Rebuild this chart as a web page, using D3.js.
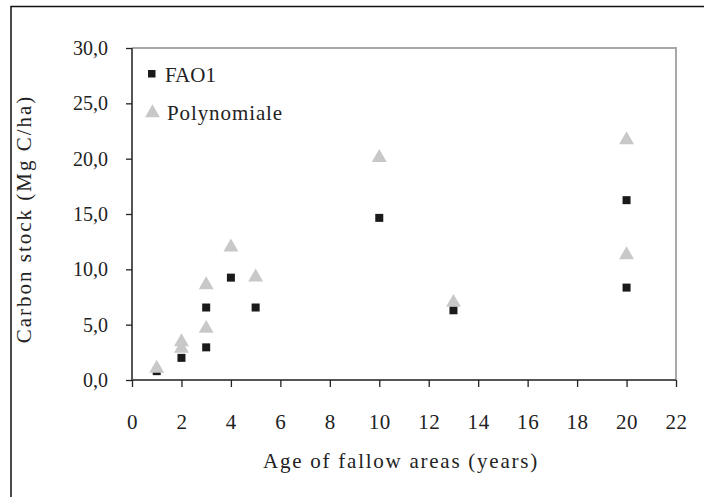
<!DOCTYPE html>
<html><head><meta charset="utf-8">
<script src="https://cdn.jsdelivr.net/npm/d3@7"></script>
<style>body{margin:0;background:#fff}svg{display:block}text{font-family:"Liberation Serif","Times New Roman",serif}</style>
</head><body>
<svg id="c" width="704" height="497"></svg>
<script>
const faoX = [1, 2, 3, 3, 4, 5, 10, 13, 20, 20];
const faoY = [0.8, 2.0, 2.95, 6.55, 9.25, 6.55, 14.65, 6.3, 16.25, 8.35];
const polyX = [1, 2, 2, 3, 3, 4, 5, 10, 13, 20, 20];
const polyY = [1.05, 3.45, 2.85, 8.6, 4.65, 12.0, 9.3, 20.1, 7.0, 21.7, 11.3];
const xTicks = [0, 2, 4, 6, 8, 10, 12, 14, 16, 18, 20, 22];
const yTicks = [0, 5, 10, 15, 20, 25, 30];
const seriesNames = ["FAO1", "Polynomiale"];

const svg = d3.select("#c");
const L = 132, R = 676, T = 48, B = 380;
const x = d3.scaleLinear().domain([0, 22]).range([L, R]);
const y = d3.scaleLinear().domain([0, 30]).range([B, T]);

// outer frame (left + top visible)
svg.append("path").attr("d", `M11,497 V6.5 H704`).attr("fill", "none").attr("stroke", "#111").attr("stroke-width", 1.5);

// plot border top/right
svg.append("path").attr("d", `M${L},${T} H${R} V${B}`).attr("fill", "none").attr("stroke", "#a8a8a8").attr("stroke-width", 2);

const fmt = d => d3.format(".1f")(d).replace(".", ",");
const yAxis = svg.append("g").attr("transform", `translate(${L},0)`)
  .call(d3.axisLeft(y).tickValues(yTicks).tickSize(6).tickPadding(18).tickFormat(fmt));
const xAxis = svg.append("g").attr("transform", `translate(0,${B})`)
  .call(d3.axisBottom(x).tickValues(xTicks).tickSize(7).tickPadding(27).tickFormat(d3.format("d")));
[yAxis, xAxis].forEach(g => {
  g.select(".domain").attr("stroke", "#555").attr("stroke-width", 2);
  g.selectAll(".tick line").attr("stroke", "#222").attr("stroke-width", 1.3);
  g.selectAll("text").attr("fill", "#222").style("font-family", '"Liberation Serif",serif');
});
yAxis.selectAll("text").style("font-size", "20px");
xAxis.selectAll("text").style("font-size", "21px").style("letter-spacing", "0.6px");
yAxis.select(".domain").attr("d", `M0,${T}V${B}`);
xAxis.select(".domain").attr("d", `M${L},0H${R}`);

const tri = d3.symbol().type(d3.symbolTriangle).size(97);
// squares
svg.append("g").selectAll("rect").data(faoX.map((d, i) => [d, faoY[i]])).join("rect")
  .attr("x", d => x(d[0]) - 4).attr("y", d => y(d[1]) - 4).attr("width", 8).attr("height", 8).attr("fill", "#1a1a1a");
// triangles
svg.append("g").selectAll("path").data(polyX.map((d, i) => [d, polyY[i]])).join("path")
  .attr("d", tri).attr("transform", d => `translate(${x(d[0])},${y(d[1])})`).attr("fill", "#c8c8c8");

// legend
svg.append("rect").attr("x", 148).attr("y", 70).attr("width", 7.5).attr("height", 7.5).attr("fill", "#1a1a1a");
svg.append("text").attr("x", 165).attr("y", 82).text(seriesNames[0]).style("font-size", "21px").attr("fill", "#222");
svg.append("path").attr("d", tri).attr("transform", "translate(152.5,113)").attr("fill", "#c8c8c8");
svg.append("text").attr("x", 167).attr("y", 120).text(seriesNames[1]).style("font-size", "21px").style("letter-spacing", "0.9px").attr("fill", "#222");

// axis titles
svg.append("text").attr("x", 401).attr("y", 468).attr("text-anchor", "middle").style("font-size", "21px")
  .style("letter-spacing", "1.75px").attr("fill", "#222").text("Age of fallow areas (years)");
svg.append("text").attr("transform", `translate(31,${(T + B) / 2 + 5}) rotate(-90)`).attr("text-anchor", "middle")
  .style("font-size", "21px").style("letter-spacing", "2px").attr("fill", "#222").text("Carbon stock (Mg C/ha)");
</script>
</body></html>
